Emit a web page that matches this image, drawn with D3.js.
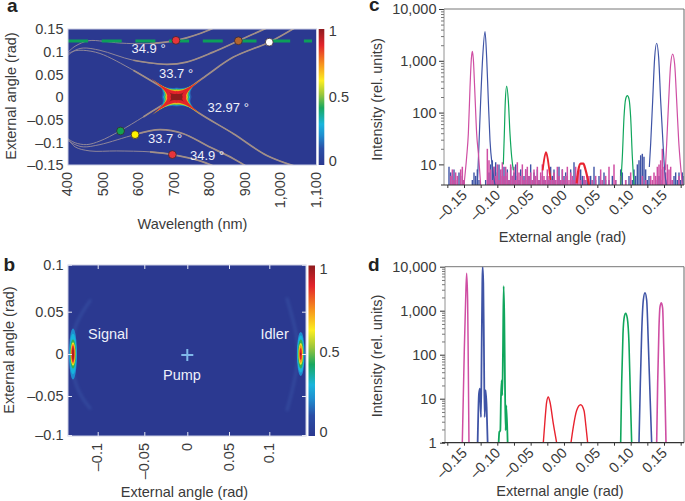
<!DOCTYPE html>
<html><head><meta charset="utf-8">
<script src="https://cdn.jsdelivr.net/npm/d3@7"></script>
<style>
html,body{margin:0;padding:0;background:#fff}
svg{display:block}
text{font-family:"Liberation Sans",Arial,sans-serif;fill:#3a3a3a;font-size:14.5px}
</style></head><body>
<svg id="c" width="685" height="501"></svg>
<script>
// ---- colour map
const cmapStops=[0,0.12,0.22,0.3,0.42,0.52,0.62,0.74,0.88,1];
const cmapColors=["#2b3990","#2b4ea6","#1f8fd0","#19b5dc","#18a860","#9cc63b","#fcee21","#f7941d","#e3242b","#8e1b1f"];
// ---- panel a
const aWaveTicks=[400,500,600,700,800,900,1000,1100];
const aWaveLabels=["400","500","600","700","800","900","1,000","1,100"];
const aAngleTicks=[0.15,0.1,0.05,0,-0.05,-0.1,-0.15];
const aAngleLabels=["0.15","0.1","0.05","0","–0.05","–0.1","–0.15"];
const curveTop349=[[400,.099],[420,.112],[457,.124],[500,.123],[546,.119],[631,.118],[706,.125],[772,.140],[815,.154]];
const curveTop337=[[400,.092],[420,.103],[443,.108],[490,.103],[584,.081],[678,.072],[734,.077],[809,.099],[880,.124],[965,.154]];
const curveRising=[[400,-.092],[420,-.101],[453,-.105],[490,-.097],[546,-.075],[612,-.044],[659,-.021],[706,0],[791,.048],[866,.088],[967,.121],[1042,.154]];
const curveFalling=[[400,.096],[420,.102],[443,.103],[490,.096],[584,.059],[659,.024],[706,0],[772,-.037],[866,-.081],[960,-.129],[1045,-.154]];
const curveBot337=[[400,-.096],[420,-.105],[443,-.110],[490,-.105],[589,-.083],[659,-.072],[725,-.081],[791,-.107],[866,-.136],[905,-.154]];
const curveBot349=[[400,-.092],[420,-.110],[462,-.119],[537,-.119],[631,-.121],[694,-.127],[772,-.141],[815,-.154]];
const aThin=[curveTop349,curveTop337,curveRising,curveFalling,curveBot337,curveBot349];
const dashAngle=0.1235;
const aMarkers=[[704,.125,"#e8343a"],[880,.124,"#b5652d"],[967,.121,"#ffffff"],[548,-.075,"#14a050"],[589,-.083,"#fff200"],[694,-.127,"#e8343a"]];
const aLabels=[["34.9 °",131.5,53],["33.7 °",159,78],["32.97 °",207.5,112],["33.7 °",148,143],["34.9 °",190,160]];
const starCenter=706;
const starValues=[0.14,0.3,0.44,0.56,0.72,0.88,1];
const starTipNm=[60,62,65,68,72,80,22];
const starTipRad=[.034,.035,.037,.039,.041,.045,.011];
const starMidNm=[42,38,35,32,30,27,17];
const starMidRad=[.021,.019,.0177,.0163,.015,.0132,.0073];
// ---- panel b
const bTicks=[-0.1,-0.05,0,0.05,0.1];
const bXLabels=["–0.1","–0.05","0","0.05","0.1"];
const bYLabels=["–0.1","–0.05","0","0.05","0.1"];
const crescentL=[[-.108,.062],[-.116,.05],[-.123,.035],[-.127,.018],[-.128,0],[-.127,-.02],[-.122,-.04],[-.115,-.055],[-.108,-.066]];
const crescentR=[[.122,.064],[.128,.045],[.133,.025],[.136,0],[.133,-.022],[.128,-.045],[.122,-.068]];
const blobValues=[0.22,0.3,0.44,0.6,0.74,0.88,1];
const signalCx=-0.1265, idlerCx=0.139;
const signalRx=[.0042,.0038,.0032,.0026,.0021,.0016,.0007];
const signalRy=[.030,.024,.017,.014,.012,.010,.007];
const idlerRx=[.0048,.0043,.0036,.0028,.0022,.0014,.0005];
const idlerRy=[.026,.022,.017,.013,.0105,.007,.002];
const bLabels=[["Signal",88,339],["Idler",260.5,339],["Pump",163,380]];
// ---- panels c / d
const xTicks=[-.175,-.15,-.125,-.1,-.075,-.05,-.025,0,.025,.05,.075,.1,.125,.15,.175];
const xMajor=[-.15,-.1,-.05,0,.05,.1,.15];
const xMajorLabels=["–0.15","–0.10","–0.05","0.00","0.05","0.10","0.15"];
const minorFactors=[2,3,4,5,6,7,8,9];
const decadeLabels=[[1,"1"],[10,"10"],[100,"100"],[1000,"1,000"],[10000,"10,000"]];
const cPink1=[[-.150,4],[-.146,14],[-.1435,39],[-.141,300],[-.139,1080],[-.1375,1514],[-.136,1080],[-.134,300],[-.131,39],[-.128,14],[-.125,4]];
const cBlue1=[[-.130,4],[-.1275,25],[-.125,170],[-.122,1150],[-.1185,3660],[-.116,1150],[-.1135,170],[-.111,29],[-.1075,9],[-.1035,4]];
const cGreen1=[[-.091,10],[-.0895,39],[-.088,170],[-.086,326],[-.0835,170],[-.081,39],[-.0785,14],[-.076,7.7]];
const cRed1=[[-.032,7.7],[-.030,12],[-.027,17.3],[-.0245,13],[-.022,7.7],[-.020,5]];
const cRed2=[[.019,4.3],[.0215,7.7],[.025,10.3],[.029,10.3],[.0325,7.7],[.0375,4]];
const cGreen2=[[.085,4],[.0875,14],[.09,81],[.0925,183],[.095,212],[.0975,183],[.1,81],[.1025,14],[.105,4]];
const cBlue2=[[.128,8.9],[.13,25],[.133,170],[.136,1150],[.139,2180],[.142,1150],[.145,170],[.148,33.6],[.151,7.7],[.1535,4]];
const cPink2=[[.152,7.7],[.154,25],[.157,170],[.16,860],[.163,1343],[.166,860],[.169,170],[.172,29],[.175,9],[.1775,4]];
const noiseStart=-0.1725, noiseStep=0.0025;
const noisePink=[4,6,8,5,7,6,4,8,9,5,4,
 4,4,4,4,4,4,4,4,4,4,4,4,20,12,8,
 5,9,6,10,5,8,11,6,9,7,5,10,
 6,9,5,11,7,6,10,5,8,9,6,7,
 5,8,6,9,5,7,10,6,5,8,6,5,
 5,7,5,9,6,5,8,5,6,9,5,7,
 6,5,9,5,8,5,4,6,5,4,6,4,
 5,4,6,4,4,8,5,4,6,4,9,4,
 4,10,5,4,4,6,4,4,5,4,4,7,
 4,4,4,4,4,4,6,4,5,4,4,6,
 5,7,6,9,10,12,20,9,7,10,8,9,
 5,4,4,4,6,4,4,4,5,7,4,4];
const noiseBlue=[9,7,6,8,5,4,7,6,4,5,
 4,4,4,4,5,7,6,8,5,4,4,4,
 5,4,7,10,12,9,11,7,10,6,8,9,
 6,8,5,9,6,7,10,6,5,8,4,6,
 8,5,6,10,5,7,4,8,5,6,4,5,
 4,6,5,9,6,8,5,4,9,5,8,6,
 7,6,4,8,5,11,4,6,4,8,6,5,
 5,6,4,6,5,9,5,4,6,5,4,7,
 5,4,5,4,6,4,5,4,4,8,7,4,
 5,4,6,4,5,8,6,10,12,15,16,14,
 8,5,6,4,4,4,4,5,6,8,5,4,
 5,4,4,5,4,6,7,5,7,5,7,6];
const dPink1=[[-.1525,1],[-.1495,127],[-.1475,1750],[-.146,7060],[-.1445,1750],[-.1435,53],[-.1425,1]];
const dBlue1=[[-.1295,1],[-.1275,13],[-.126,17],[-.1245,3.8],[-.1235,126],[-.1225,4200],[-.122,10000],[-.121,4200],[-.12,126],[-.119,3.8],[-.1175,15.6],[-.116,6.5],[-.1145,1]];
const dGreen1=[[-.098,1],[-.097,1.75],[-.0955,1.9],[-.0945,11],[-.0935,26],[-.0925,12],[-.0915,126],[-.0905,3620],[-.0895,720],[-.0885,22],[-.0875,1.9],[-.0865,7],[-.0845,1]];
const dRed1=[[-.031,1],[-.0285,3.2],[-.026,8.4],[-.0235,11],[-.021,8.4],[-.016,2.7],[-.011,1]];
const dRed2=[[.0105,1],[.014,2.3],[.019,5.4],[.025,7.3],[.03,5.4],[.033,2.3],[.0355,1]];
const dGreen2=[[.085,1],[.0865,22],[.0885,300],[.0905,730],[.0925,870],[.095,670],[.0975,180],[.0995,13],[.1015,1]];
const dBlue2=[[.1125,1],[.1145,22],[.1165,300],[.119,1750],[.1215,2550],[.124,1750],[.1265,180],[.129,13],[.1315,1]];
const dPink2=[[.139,1],[.1405,22],[.1425,430],[.144,1220],[.146,1510],[.148,1130],[.1495,180],[.1515,13],[.153,1]];
const PINK="#cf4ea3",BLUE="#3f54a6",GREEN="#10a65c",RED="#e8232f";

const svg=d3.select("#c");
const defs=svg.append("defs");
const color=d3.scaleLinear().domain(cmapStops).range(cmapColors);
const blur=defs.append("filter").attr("id","blur").attr("x","-30%").attr("y","-30%").attr("width","160%").attr("height","160%");
blur.append("feGaussianBlur").attr("stdDeviation",0.45);
const blur2=defs.append("filter").attr("id","blur2").attr("x","-60%").attr("y","-30%").attr("width","220%").attr("height","160%");
blur2.append("feGaussianBlur").attr("stdDeviation",1.4);
const grad=defs.append("linearGradient").attr("id","cbar").attr("x1",0).attr("x2",0).attr("y1",1).attr("y2",0);
cmapStops.forEach((s,i)=>grad.append("stop").attr("offset",s).attr("stop-color",cmapColors[i]));
function clip(id,x,y,w,h){defs.append("clipPath").attr("id",id).append("rect").attr("x",x).attr("y",y).attr("width",w).attr("height",h);}
function label(t,x,y,o={}){const e=svg.append("text").attr("x",x).attr("y",y).text(t);
 if(o.size)e.style("font-size",o.size+"px"); if(o.bold)e.style("font-weight","bold").style("fill","#222");
 if(o.anchor)e.attr("text-anchor",o.anchor); if(o.rot!=null)e.attr("transform",`rotate(${o.rot} ${x} ${y})`);
 if(o.white)e.style("fill","#eef0fa"); return e;}
function colorbar(x,w,y0,y1,labels){
 svg.append("rect").attr("x",x).attr("y",y0).attr("width",w).attr("height",y1-y0).attr("fill","url(#cbar)");
 labels.forEach(l=>label(l[0],x+w+4.5,l[1]).attr("dy","0.36em"));
}

// ---------- a
const ax=d3.scaleLinear().domain([400,1100]).range([68,316.5]);
const ay=d3.scaleLinear().domain([-0.15,0.15]).range([165,29]);
clip("clipA",68,29,248.5,136);
svg.append("rect").attr("x",68).attr("y",29).attr("width",248.5).attr("height",136).attr("fill",cmapColors[0]);
const gA=svg.append("g").attr("clip-path","url(#clipA)");
const aLine=d3.line().x(d=>ax(d[0])).y(d=>ay(d[1])).curve(d3.curveCatmullRom.alpha(0.5));
aThin.forEach(c=>{
 gA.append("path").attr("d",aLine(c)).attr("fill","none").attr("stroke","#8f8699").attr("stroke-width",1);
 gA.append("path").attr("d",aLine(c.filter(d=>d[0]>=584))).attr("fill","none").attr("stroke","#a08e88").attr("stroke-width",1.7);
});
const gStar=gA.append("g").attr("filter","url(#blur)");
const K=0.75;
starValues.forEach((v,i)=>{
 const T=starTipNm[i],R=starTipRad[i],mx=starMidNm[i],my=starMidRad[i],c=starCenter;
 const X=d=>ax(c+d),Y=d=>ay(d),qx=mx*K,qy=my*K;
 const p=d3.path();
 p.moveTo(X(mx),Y(0));
 p.quadraticCurveTo(X(qx),Y(qy),X(T),Y(R));
 p.quadraticCurveTo(X(qx),Y(qy),X(0),Y(my));
 p.quadraticCurveTo(X(-qx),Y(qy),X(-T),Y(R));
 p.quadraticCurveTo(X(-qx),Y(qy),X(-mx),Y(0));
 p.quadraticCurveTo(X(-qx),Y(-qy),X(-T),Y(-R));
 p.quadraticCurveTo(X(-qx),Y(-qy),X(0),Y(-my));
 p.quadraticCurveTo(X(qx),Y(-qy),X(T),Y(-R));
 p.quadraticCurveTo(X(qx),Y(-qy),X(mx),Y(0));
 gStar.append("path").attr("d",p.toString()).attr("fill",color(v));
});
gA.append("line").attr("x1",68).attr("x2",312).attr("y1",ay(dashAngle)).attr("y2",ay(dashAngle))
 .attr("stroke","#0c9f5a").attr("stroke-width",3).attr("stroke-dasharray","20 13.7");
gA.selectAll("circle").data(aMarkers).join("circle").attr("cx",d=>ax(d[0])).attr("cy",d=>ay(d[1])).attr("r",3.9)
 .attr("fill",d=>d[2]).attr("stroke","#3a2a30").attr("stroke-width",0.8);
svg.append("rect").attr("x",68).attr("y",29).attr("width",248.5).attr("height",136).attr("fill","none").attr("stroke","#cdd0e4").attr("stroke-width",1);
aLabels.forEach(l=>label(l[0],l[1],l[2],{white:1,size:13}));
aAngleTicks.forEach((t,i)=>label(aAngleLabels[i],63.5,ay(t),{anchor:"end"}).attr("dy","0.36em"));
aWaveTicks.forEach((t,i)=>label(aWaveLabels[i],ax(t)+4,172,{anchor:"end",rot:-90}));
label("External angle (rad)",15.5,96,{anchor:"middle",rot:-90});
label("Wavelength (nm)",192.5,229,{anchor:"middle"});
colorbar(318.7,5.6,29,165,[["1",31],["0.5",97],["0",161]]);
label("a",7,11.5,{bold:1,size:19});

// ---------- b
const bx=d3.scaleLinear().domain(bTicks).range([97.7,144.3,187.3,229,269.3]);
const by=d3.scaleLinear().domain(bTicks).range([435,396,354,311.7,264.7]);
clip("clipB",68,265,238,171);
svg.append("rect").attr("x",68).attr("y",265).attr("width",238).attr("height",171).attr("fill",cmapColors[0]);
const gB=svg.append("g").attr("clip-path","url(#clipB)");
const bLine=d3.line().x(d=>bx(d[0])).y(d=>by(d[1])).curve(d3.curveCatmullRom);
[crescentL,crescentR].forEach(c=>gB.append("path").attr("d",bLine(c)).attr("fill","none").attr("stroke","#4a73bf")
 .attr("stroke-width",2.6).attr("opacity",0.32).attr("stroke-linecap","round").attr("filter","url(#blur2)"));
function blob(cx,rxs,rys){
 const g=gB.append("g").attr("filter","url(#blur)");
 blobValues.forEach((v,i)=>g.append("ellipse").attr("cx",bx(cx)).attr("cy",by(0))
  .attr("rx",Math.abs(bx(cx+rxs[i])-bx(cx))).attr("ry",Math.abs(by(rys[i])-by(0))).attr("fill",color(v)));
}
blob(signalCx,signalRx,signalRy);
blob(idlerCx,idlerRx,idlerRy);
svg.append("rect").attr("x",68).attr("y",265).attr("width",238).attr("height",171).attr("fill","none").attr("stroke","#cdd0e4");
const tickW="#e6e8f4";
svg.append("g").attr("transform","translate(68,0)").call(d3.axisLeft(by).tickValues(bTicks).tickSize(-4).tickFormat("")).call(g=>{g.select(".domain").remove();g.selectAll("line").attr("stroke",tickW);});
svg.append("g").attr("transform","translate(306,0)").call(d3.axisRight(by).tickValues(bTicks).tickSize(-4).tickFormat("")).call(g=>{g.select(".domain").remove();g.selectAll("line").attr("stroke",tickW);});
svg.append("g").attr("transform","translate(0,436)").call(d3.axisBottom(bx).tickValues(bTicks).tickSize(-4).tickFormat("")).call(g=>{g.select(".domain").remove();g.selectAll("line").attr("stroke",tickW);});
svg.append("g").attr("transform","translate(0,265)").call(d3.axisTop(bx).tickValues(bTicks).tickSize(-4).tickFormat("")).call(g=>{g.select(".domain").remove();g.selectAll("line").attr("stroke",tickW);});
// pump cross
gB.append("line").attr("x1",bx(0)-6).attr("x2",bx(0)+6).attr("y1",by(0)+1).attr("y2",by(0)+1).attr("stroke","#7fb8ea").attr("stroke-width",2);
gB.append("line").attr("x1",bx(0)).attr("x2",bx(0)).attr("y1",by(0)-5).attr("y2",by(0)+7).attr("stroke","#7fb8ea").attr("stroke-width",2);
bLabels.forEach(l=>label(l[0],l[1],l[2],{white:1}));
bTicks.forEach((t,i)=>{label(bYLabels[i],63.5,by(t),{anchor:"end"}).attr("dy","0.36em");
 label(bXLabels[i],bx(t)+4.5,443,{anchor:"end",rot:-90});});
label("External angle (rad)",13.5,350,{anchor:"middle",rot:-90});
label("External angle (rad)",184.5,497,{anchor:"middle"});
colorbar(308.5,6.5,265.5,436,[["1",269],["0.5",352],["0",431.5]]);
label("b",3.5,270.5,{bold:1,size:19});

// ---------- c & d
function specAxes(x,y,yDecades,left,right,top,bottom,titleY,titleX,titleBase){
 const minor=[];yDecades.forEach(d=>{if(d<10000)minorFactors.forEach(f=>{if(d*f>=y.domain()[0])minor.push(d*f);});});
 svg.append("g").attr("transform",`translate(${left},0)`).call(d3.axisLeft(y).tickValues(minor).tickSize(3).tickFormat(""))
  .call(g=>{g.select(".domain").remove();g.selectAll("line").attr("stroke","#555").attr("stroke-width",0.8);});
 svg.append("g").attr("transform",`translate(${left},0)`).call(d3.axisLeft(y).tickValues(yDecades).tickSize(5).tickFormat(""))
  .call(g=>{g.select(".domain").remove();g.selectAll("line").attr("stroke","#333");});
 svg.append("g").attr("transform",`translate(0,${bottom})`).call(d3.axisBottom(x).tickValues(xTicks).tickSize(3).tickFormat(""))
  .call(g=>{g.select(".domain").remove();g.selectAll("line").attr("stroke","#333");});
 svg.append("line").attr("x1",left).attr("x2",left).attr("y1",top).attr("y2",bottom).attr("stroke","#777").attr("stroke-width",0.8);
 svg.append("line").attr("x1",right).attr("x2",right).attr("y1",top).attr("y2",bottom).attr("stroke","#666").attr("stroke-width",1);
 svg.append("line").attr("x1",left).attr("x2",right).attr("y1",top).attr("y2",top).attr("stroke","#777").attr("stroke-width",1);
 svg.append("line").attr("x1",left-3).attr("x2",right).attr("y1",bottom).attr("y2",bottom).attr("stroke","#333").attr("stroke-width",1.2);
 decadeLabels.forEach(d=>{if(yDecades.includes(d[0]))label(d[1],436.5,y(d[0])).attr("text-anchor","end").attr("dy","0.36em");});
 xMajor.forEach((t,i)=>label(xMajorLabels[i],x(t)+4,bottom+11,{anchor:"end",rot:-45}));
 label("Intensity (rel. units)",381.5,titleY,{anchor:"middle",rot:-90});
 label("External angle (rad)",titleX,titleBase,{anchor:"middle"});
}
const cx=d3.scaleLinear().domain([-0.18,0.18]).range([444,684]);
const cy=d3.scaleLog().domain([4,10000]).range([185,9]);
clip("clipC",444,9,240,176);
const gC=svg.append("g").attr("clip-path","url(#clipC)");
const cLine=d3.line().x(d=>cx(d[0])).y(d=>cy(d[1])).curve(d3.curveMonotoneX);
function noiseBars(vals,col,w){
 gC.append("g").selectAll("line").data(vals).join("line")
  .attr("x1",(d,i)=>cx(noiseStart+i*noiseStep)).attr("x2",(d,i)=>cx(noiseStart+i*noiseStep))
  .attr("y1",cy(4)).attr("y2",d=>cy(d)).attr("stroke",col).attr("stroke-width",w);
}
noiseBars(noiseBlue,BLUE,1.4);
noiseBars(noisePink,PINK,1.5);
[[cBlue1,BLUE,1.2],[cGreen1,GREEN,1.2],[cPink1,PINK,1.2],[cRed1,RED,1.8],[cRed2,RED,2.2],[cGreen2,GREEN,1.2],[cBlue2,BLUE,1.2],[cPink2,PINK,1.2]]
 .forEach(s=>gC.append("path").attr("d",cLine(s[0])).attr("fill","none").attr("stroke",s[1]).attr("stroke-width",s[2]));
specAxes(cx,cy,[10,100,1000,10000],444,684,9,185,99.5,562.5,242);
label("c",369,11,{bold:1,size:19});

const dx=d3.scaleLinear().domain([-0.178,0.18]).range([445.3,684]);
const dy=d3.scaleLog().domain([1,10000]).range([442.7,266.7]);
clip("clipD",445,266.7,239,176);
const gD=svg.append("g").attr("clip-path","url(#clipD)");
const dLine=d3.line().x(d=>dx(d[0])).y(d=>dy(d[1])).curve(d3.curveMonotoneX);
[[dPink1,PINK,1.5],[dBlue1,BLUE,1.8],[dGreen1,GREEN,1.8],[dRed1,RED,1.4],[dRed2,RED,1.4],[dGreen2,GREEN,1.6],[dBlue2,BLUE,1.6],[dPink2,PINK,1.6]]
 .forEach(s=>gD.append("path").attr("d",dLine(s[0])).attr("fill","none").attr("stroke",s[1]).attr("stroke-width",s[2]));
specAxes(dx,dy,[1,10,100,1000,10000],445,684,266.7,442.7,356,560,496);
label("d",368,270.7,{bold:1,size:19});
</script></body></html>
